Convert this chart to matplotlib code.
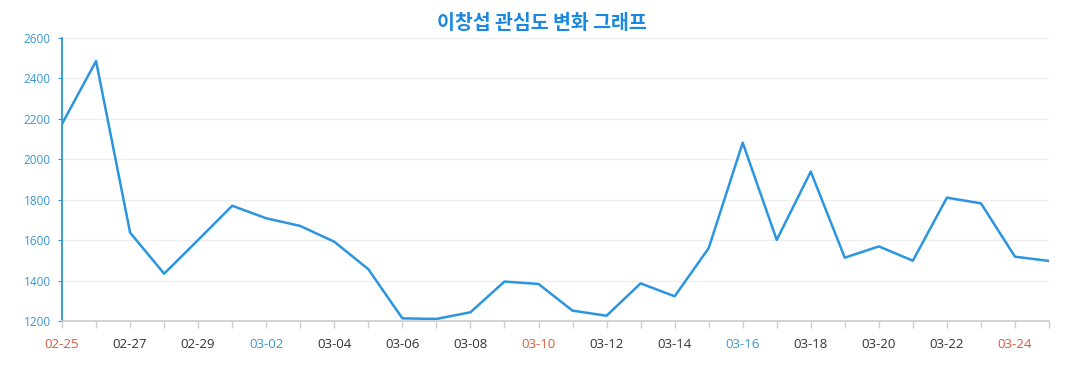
import matplotlib.pyplot as plt
import numpy as np

plt.rcParams['font.family'] = ['Noto Sans CJK KR', 'DejaVu Sans']

dates = ['02-25', '02-26', '02-27', '02-28', '02-29', '03-01', '03-02', '03-03',
         '03-04', '03-05', '03-06', '03-07', '03-08', '03-09', '03-10', '03-11',
         '03-12', '03-13', '03-14', '03-15', '03-16', '03-17', '03-18', '03-19',
         '03-20', '03-21', '03-22', '03-23', '03-24', '03-25']
values = [2175, 2486, 1637, 1434, 1601, 1770, 1708, 1670, 1592, 1456,
          1213, 1210, 1243, 1395, 1383, 1251, 1226, 1386, 1322, 1560,
          2082, 1601, 1939, 1513, 1569, 1498, 1810, 1782, 1518, 1497]
# weekend days among the labelled dates
saturdays = ['03-02', '03-16']
sundays = ['02-25', '03-10', '03-24']

line_color = '#2b95e0'
fig = plt.figure(figsize=(10.77, 3.9), dpi=100)
ax = fig.add_axes([0.0576, 0.177, 0.9164, 0.7256])

x = np.arange(len(dates))
ax.plot(x, values, color=line_color, linewidth=1.8)

ax.set_xlim(0, len(dates) - 1)
ax.set_ylim(1200, 2600)
ax.set_yticks(np.arange(1200, 2601, 200))
ax.grid(axis='y', color='#eeeeee', linewidth=0.9)
ax.set_axisbelow(True)

ax.set_xticks(x, minor=True)
ax.set_xticks(x[::2])
ax.set_xticklabels(dates[::2])
ax.tick_params(axis='x', which='both', length=5, color='#cccccc', width=1)
ax.tick_params(axis='x', which='major', pad=7, labelsize=9.5, labelcolor='#333333')
ax.tick_params(axis='y', length=3, color=line_color, pad=5,
               labelsize=8.5, labelcolor='#3a97d4')

for lab in ax.get_xticklabels() + ax.get_yticklabels():
    lab.set_family('Open Sans')
for lab in ax.get_xticklabels():
    t = lab.get_text()
    if t in sundays:
        lab.set_color('#e0573a')
    elif t in saturdays:
        lab.set_color('#3a97d4')

for s in ['top', 'right']:
    ax.spines[s].set_visible(False)
ax.spines['left'].set_color(line_color)
ax.spines['left'].set_linewidth(1.3)
ax.spines['bottom'].set_color('#cccccc')
ax.spines['bottom'].set_linewidth(1.2)

fig.suptitle('이창섭 관심도 변화 그래프', x=0.503, y=0.965, fontsize=14,
             fontweight='bold', color='#1a88e0')

fig.savefig('out.png')
